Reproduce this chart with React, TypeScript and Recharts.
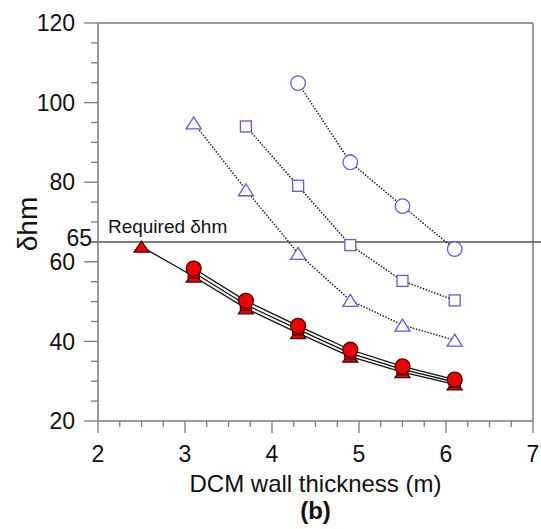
import React from "react";
import {
  LineChart,
  Line,
  XAxis,
  YAxis,
  ReferenceLine,
} from "recharts";

// wall thickness (m) for each design case
const openCircleX = [4.3, 4.9, 5.5, 6.1];
const openCircleY = [104.9, 85.0, 74.0, 63.2];

const openSquareX = [3.7, 4.3, 4.9, 5.5, 6.1];
const openSquareY = [94.0, 79.1, 64.2, 55.2, 50.3];

const openTriangleX = [3.1, 3.7, 4.3, 4.9, 5.5, 6.1];
const openTriangleY = [94.9, 78.1, 62.1, 50.3, 44.1, 40.3];

const redCircleX = [3.1, 3.7, 4.3, 4.9, 5.5, 6.1];
const redCircleY = [58.3, 50.2, 43.9, 37.9, 33.7, 30.4];

const redSquareX = [3.1, 3.7, 4.3, 4.9, 5.5, 6.1];
const redSquareY = [57.3, 49.2, 43.0, 37.0, 33.0, 29.8];

const redTriangleX = [2.5, 3.1, 3.7, 4.3, 4.9, 5.5, 6.1];
const redTriangleY = [63.8, 56.3, 48.3, 42.1, 36.2, 32.3, 29.2];

const xMajor = [2, 3, 4, 5, 6, 7];
const yMajor = [20, 40, 60, 80, 100, 120];
const requiredLevel = 65;

const xTicks: number[] = [];
for (let t = 2; t <= 7.0001; t += 0.25) xTicks.push(Math.round(t * 100) / 100);
const yTicks: number[] = [];
for (let t = 20; t <= 120; t += 5) yTicks.push(t);

const FONT = '"Liberation Sans", Arial, sans-serif';
const FRAME = "#7a7a7a";
const BLUE = "#5d5dd8";
const RED = "#ee0000";

const toPoints = (xs: number[], ys: number[]) => xs.map((x, i) => ({ x, y: ys[i] }));

type DotProps = { cx?: number; cy?: number; index?: number };

const circleDot = (r: number, fill: string, stroke: string) => (p: DotProps) => {
  if (p.cx == null || p.cy == null) return <g key={p.index} />;
  return <circle key={p.index} cx={p.cx} cy={p.cy} r={r} fill={fill} stroke={stroke} strokeWidth={1.3} />;
};

const squareDot = (s: number, fill: string, stroke: string) => (p: DotProps) => {
  if (p.cx == null || p.cy == null) return <g key={p.index} />;
  return (
    <rect key={p.index} x={p.cx - s / 2} y={p.cy - s / 2} width={s} height={s} fill={fill} stroke={stroke} strokeWidth={1.3} />
  );
};

const triangleDot = (w: number, h: number, fill: string, stroke: string) => (p: DotProps) => {
  if (p.cx == null || p.cy == null) return <g key={p.index} />;
  const { cx, cy } = p;
  const pts = `${cx},${cy - h / 2} ${cx + w / 2},${cy + h / 2} ${cx - w / 2},${cy + h / 2}`;
  return <polygon key={p.index} points={pts} fill={fill} stroke={stroke} strokeWidth={1.3} strokeLinejoin="miter" />;
};

function YTick({ x, y, payload }: any) {
  const v = payload.value;
  const major = yMajor.includes(v);
  const len = major ? 14 : 7;
  return (
    <g>
      <line x1={x - len} x2={x} y1={y} y2={y} stroke={FRAME} strokeWidth={1.3} />
      {major && (
        <text x={x - 23} y={y} dy="0.36em" textAnchor="end" fontSize={23} fontFamily={FONT} fill="#111">
          {v}
        </text>
      )}
      {v === requiredLevel && (
        <text x={x - 6} y={y + 4} textAnchor="end" fontSize={23} fontFamily={FONT} fill="#111">
          {v}
        </text>
      )}
    </g>
  );
}

function XTick({ x, y, payload }: any) {
  const v = payload.value;
  const major = xMajor.includes(v);
  const len = major ? 12 : 6;
  return (
    <g>
      <line x1={x} x2={x} y1={y} y2={y + len} stroke={FRAME} strokeWidth={1.3} />
      {major && (
        <text x={x} y={y + 41} textAnchor="middle" fontSize={23} fontFamily={FONT} fill="#111">
          {v}
        </text>
      )}
    </g>
  );
}

function XTitle({ viewBox }: any) {
  const cx = viewBox.x + viewBox.width / 2;
  return (
    <g fontFamily={FONT} fill="#111">
      <text x={cx} y={viewBox.y + 71} textAnchor="middle" fontSize={24}>
        DCM wall thickness (m)
      </text>
      <text x={cx} y={viewBox.y + 98} textAnchor="middle" fontSize={24} fontWeight="bold">
        (b)
      </text>
    </g>
  );
}

function YTitle({ viewBox }: any) {
  const cy = viewBox.y + viewBox.height / 2 + 2;
  const x = 37;
  return (
    <text
      x={x}
      y={cy}
      textAnchor="middle"
      fontSize={28}
      fontFamily={FONT}
      fill="#111"
      transform={`rotate(-90, ${x}, ${cy})`}
    >
      δhm
    </text>
  );
}

function RequiredLabel({ viewBox }: any) {
  return (
    <text x={viewBox.x + 16} y={viewBox.y - 9} fontSize={19} fontFamily={FONT} fill="#111">
      Required δhm
    </text>
  );
}

export default function App() {
  return (
    <div style={{ position: "absolute", left: 0, top: 0, width: 541, height: 529, background: "#fff" }}>
      <LineChart width={541} height={529} margin={{ top: 23, right: 8, left: 0, bottom: 0 }}>
        <XAxis
          type="number"
          dataKey="x"
          domain={[2, 7]}
          ticks={xTicks}
          interval={0}
          height={108}
          tickSize={0}
          tickMargin={0}
          tickLine={false}
          axisLine={{ stroke: FRAME, strokeWidth: 1.5 }}
          tick={<XTick />}
          label={<XTitle />}
          allowDataOverflow
        />
        <YAxis
          type="number"
          dataKey="y"
          domain={[20, 120]}
          ticks={yTicks}
          interval={0}
          width={98}
          tickSize={0}
          tickMargin={0}
          tickLine={false}
          axisLine={{ stroke: FRAME, strokeWidth: 1.5 }}
          tick={<YTick />}
          label={<YTitle />}
          allowDataOverflow
        />
        <ReferenceLine y={120} stroke={FRAME} strokeWidth={1.5} />
        <ReferenceLine x={7} stroke={FRAME} strokeWidth={1.5} />
        <ReferenceLine
          segment={[
            { x: 1.93, y: requiredLevel },
            { x: 7.1, y: requiredLevel },
          ]}
          ifOverflow="visible"
          stroke="#555"
          strokeWidth={1.5}
          label={<RequiredLabel />}
        />

        <Line
          data={toPoints(openCircleX, openCircleY)}
          dataKey="y"
          type="linear"
          stroke="#222"
          strokeWidth={1.5}
          strokeDasharray="1.5 1.5"
          dot={circleDot(7.3, "#fff", BLUE)}
          isAnimationActive={false}
        />
        <Line
          data={toPoints(openSquareX, openSquareY)}
          dataKey="y"
          type="linear"
          stroke="#222"
          strokeWidth={1.5}
          strokeDasharray="1.5 1.5"
          dot={squareDot(11, "#fff", BLUE)}
          isAnimationActive={false}
        />
        <Line
          data={toPoints(openTriangleX, openTriangleY)}
          dataKey="y"
          type="linear"
          stroke="#222"
          strokeWidth={1.5}
          strokeDasharray="1.5 1.5"
          dot={triangleDot(15, 12, "#fff", BLUE)}
          isAnimationActive={false}
        />

        <Line
          data={toPoints(redTriangleX, redTriangleY)}
          dataKey="y"
          type="linear"
          stroke="#111"
          strokeWidth={1.3}
          dot={triangleDot(15, 11, RED, "#4a0000")}
          isAnimationActive={false}
        />
        <Line
          data={toPoints(redSquareX, redSquareY)}
          dataKey="y"
          type="linear"
          stroke="#111"
          strokeWidth={1.3}
          dot={squareDot(11, RED, "#4a0000")}
          isAnimationActive={false}
        />
        <Line
          data={toPoints(redCircleX, redCircleY)}
          dataKey="y"
          type="linear"
          stroke="#111"
          strokeWidth={1.3}
          dot={circleDot(7.5, RED, "#4a0000")}
          isAnimationActive={false}
        />
      </LineChart>
    </div>
  );
}
